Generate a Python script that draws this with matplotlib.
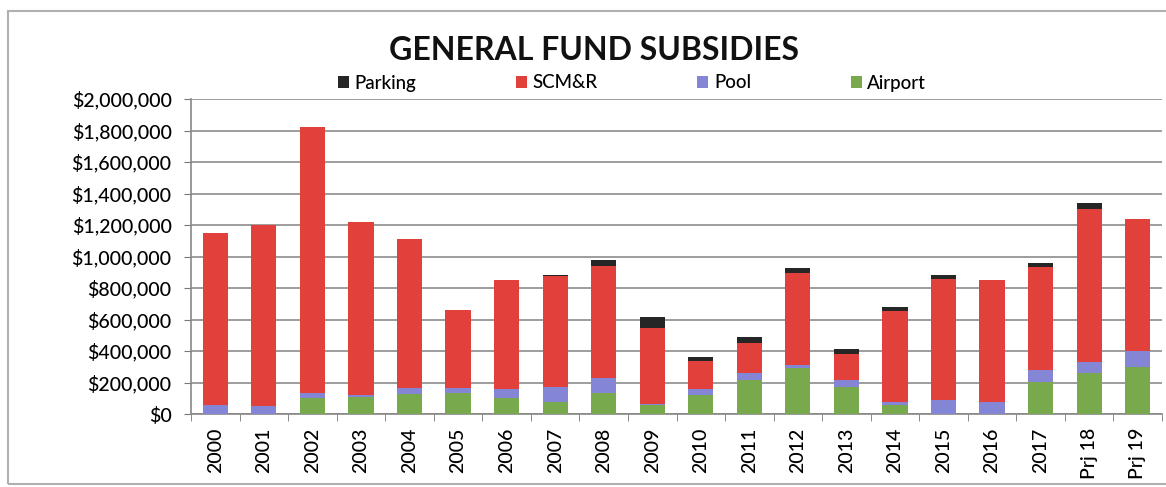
import matplotlib
matplotlib.use("Agg")
import matplotlib.pyplot as plt
from matplotlib.ticker import FuncFormatter, MultipleLocator
from matplotlib.patches import Rectangle
import numpy as np

plt.rcParams['font.family'] = ['Lato', 'DejaVu Sans']

years = ['2000', '2001', '2002', '2003', '2004', '2005', '2006', '2007', '2008', '2009',
         '2010', '2011', '2012', '2013', '2014', '2015', '2016', '2017', 'Prj 18', 'Prj 19']

# dollars, stacked bottom to top: Airport, Pool, SCM&R, Parking
airport = [0, 0, 100000, 105000, 130000, 135000, 100000, 76000, 133000, 60000,
           121000, 216000, 292000, 170000, 57000, 0, 0, 203000, 260000, 298000]
pool = [55000, 50000, 35000, 15000, 35000, 30000, 60000, 97000, 95000, 3000,
        38000, 44000, 19000, 46000, 19000, 89000, 76000, 76000, 70000, 102000]
scmr = [1095000, 1150000, 1687000, 1100000, 945000, 495000, 690000, 705000, 712000, 483000,
        177000, 191000, 584000, 165000, 578000, 768000, 775000, 654000, 972000, 838000]
parking = [0, 0, 0, 0, 0, 0, 0, 5000, 38000, 70000,
           26000, 38000, 32000, 30000, 25000, 26000, 0, 26000, 38000, 0]

c_park = '#262626'
c_scmr = '#E2403B'
c_pool = '#8585D6'
c_air = '#78A94C'

fig = plt.figure(figsize=(11.66, 4.87), dpi=100)
ax = fig.add_axes([191/1166, 1 - 414/487, (1162 - 191)/1166, (414 - 99)/487])

x = np.arange(len(years))
w = 0.52
a = np.array(airport)
p = np.array(pool)
s = np.array(scmr)
k = np.array(parking)
ax.bar(x, a, w, color=c_air, zorder=3, label='Airport')
ax.bar(x, p, w, bottom=a, color=c_pool, zorder=3, label='Pool')
ax.bar(x, s, w, bottom=a + p, color=c_scmr, zorder=3, label='SCM&R')
ax.bar(x, k, w, bottom=a + p + s, color=c_park, zorder=3, label='Parking')

ax.set_xlim(-0.5, len(years) - 0.5)
ax.set_ylim(0, 2000000)
ax.yaxis.set_major_locator(MultipleLocator(200000))
ax.yaxis.set_major_formatter(FuncFormatter(lambda v, _: '${:,.0f}'.format(v)))
ax.grid(axis='y', color='#8c8c8c', linewidth=1.2, zorder=0)
ax.set_axisbelow(True)

ax.set_xticks(x)
ax.set_xticklabels(years, rotation=90, fontsize=14, fontweight='medium')
ax.set_xticks(np.arange(-0.5, len(years)), minor=True)
ax.tick_params(axis='x', which='major', length=0, pad=10)
ax.tick_params(axis='x', which='minor', length=5, color='#777777', direction='out')
ax.tick_params(axis='y', labelsize=14, length=5, color='#777777', pad=9)
for lbl in ax.get_yticklabels():
    lbl.set_fontweight('medium')

for side in ['top', 'right']:
    ax.spines[side].set_visible(False)
for side in ['left', 'bottom']:
    ax.spines[side].set_color('#888888')
    ax.spines[side].set_linewidth(1.2)

fig.text(594/1166, 1 - 50/487, 'GENERAL FUND SUBSIDIES', ha='center', va='center',
         fontsize=23, fontweight='bold', color='#111111')

handles, labels = ax.get_legend_handles_labels()
order = [3, 2, 1, 0]
fig.legend([handles[i] for i in order], [labels[i] for i in order],
           loc='center', bbox_to_anchor=(632/1166, 1 - 83/487), ncol=4, frameon=False,
           fontsize=13.5, handlelength=0.6, handleheight=0.6, handletextpad=0.3,
           columnspacing=5.3, prop={'weight': 'medium', 'size': 13.5})

# chart frame
fig.patches.append(Rectangle((8/1166, 3/487), 1.0, 1 - 14/487, transform=fig.transFigure,
                             fill=False, edgecolor='#b0b0b0', linewidth=1.5))

fig.savefig('out.png', dpi=100)
